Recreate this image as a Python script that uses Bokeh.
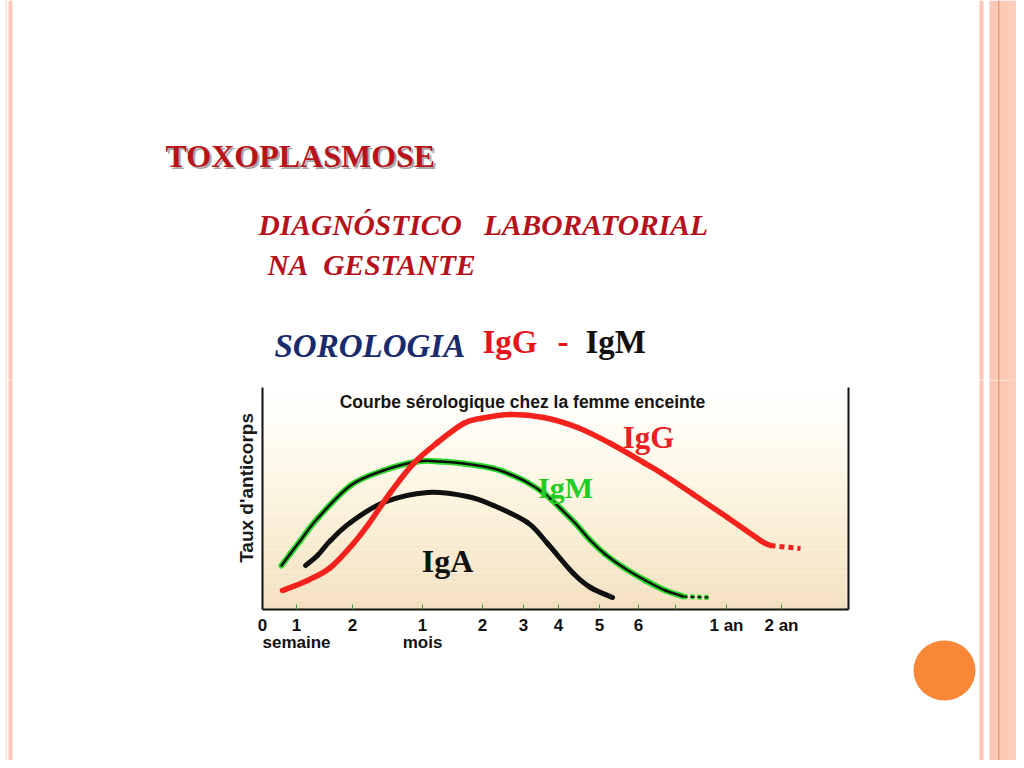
from bokeh.plotting import figure
from bokeh.models import Range1d, LinearAxis, FixedTicker, Label
from bokeh.layouts import column, row
from bokeh.core.properties import value
from bokeh.embed import file_html
from bokeh.resources import INLINE

# ---------------- data (x: position along the time axis, y: antibody level) ----------------
igg_x = [20, 45, 68, 91, 105, 128, 151, 175, 201, 218, 248, 281, 315, 348, 381, 398, 431, 465, 498, 508]
igg_y = [19, 29, 42, 66, 84, 117, 146, 167, 186, 191, 195, 192, 182, 166, 147, 137, 115, 92, 69, 64]
igg_tail_x = [508, 538]
igg_tail_y = [64, 61]

igm_x = [19, 28, 38, 55, 88, 121, 155, 178, 201, 231, 248, 265, 283, 298, 313, 328, 343, 361, 383, 403, 421]
igm_y = [44, 56, 69, 91, 124, 139, 148, 148, 146, 141, 135, 127, 115, 101, 86, 69, 55, 42, 29, 19, 13]
igm_tail_x = [421, 448]
igm_tail_y = [13, 12]

iga_x = [43, 55, 68, 88, 121, 165, 205, 231, 265, 285, 311, 328, 350]
iga_y = [44, 54, 69, 87, 107, 117, 113, 104, 87, 66, 36, 22, 12]

tick_pos = [0, 34, 90, 160, 220, 261, 296, 337, 376, 464, 519]
tick_labels = ["0", "1\nsemaine", "2", "1\nmois", "2", "3", "4", "5", "6", "1 an", "2 an"]
unlabeled_ticks = [413]

X_MAX = 586
Y_MAX = 222

TOTAL_W, TOTAL_H = 1016, 760
TOP_H = 380
LEFT_W = 200
CHART_W = 670
RIGHT_W = TOTAL_W - LEFT_W - CHART_W
ROW_H = TOTAL_H - TOP_H


def no_align(f):
    try:
        f.frame_align = False
    except Exception:
        pass


def canvas(x0, y0, w, h):
    """A plain figure whose data coordinates are slide pixels."""
    f = figure(width=w, height=h, output_backend="svg", toolbar_location=None,
               x_range=Range1d(x0, x0 + w), y_range=Range1d(y0 + h, y0),
               min_border=0, background_fill_color="white", border_fill_color="white")
    f.axis.visible = False
    f.grid.visible = False
    f.outline_line_color = None
    no_align(f)
    # slide decoration stripes
    f.quad(left=[5, 8, 979, 989, 1007, 997.5], right=[6.5, 12, 983, 1024, 1024, 999],
           bottom=[0] * 6, top=[768] * 6,
           fill_color=["#F6E2D2", "#FDC6B8", "#FBC6B4", "#FCC8B4", "#FDCDBB", "#E99C80"],
           line_color=None)
    return f


# ---------------- top part of the slide ----------------
top = canvas(0, 0, TOTAL_W, TOP_H)


def slide_text(f, x, y, text, font, size, color, style="bold", align="left"):
    f.text(x=[x], y=[y], text=[text], text_font=value(font), text_font_size=size,
           text_font_style=style, text_color=color, text_align=align, text_baseline="alphabetic")


NB = "\u00a0"
slide_text(top, 167, 157, "TOXOPLASMOSE", "Liberation Serif", "32px", "#a8a8a8")
slide_text(top, 165, 155, "TOXOPLASMOSE", "Liberation Serif", "32px", "#B8121B")
slide_text(top, 258, 224, "DIAGNÓSTICO" + NB * 3 + "LABORATORIAL", "Liberation Serif", "29.5px", "#B5121B", "bold italic")
slide_text(top, 267, 264, "NA" + NB * 2 + "GESTANTE", "Liberation Serif", "29.5px", "#B5121B", "bold italic")
slide_text(top, 274, 345, "SOROLOGIA", "Liberation Serif", "33px", "#1A2B6D", "bold italic")
slide_text(top, 482, 341, "IgG", "Liberation Serif", "33px", "#E8141B")
slide_text(top, 557, 341, "-", "Liberation Serif", "33px", "#E8141B")
slide_text(top, 585, 341, "IgM", "Liberation Serif", "33px", "#111111")

left = canvas(0, TOP_H, LEFT_W, ROW_H)
right = canvas(LEFT_W + CHART_W, TOP_H, RIGHT_W, ROW_H)
right.ellipse(x=[944], y=[670], width=62, height=60, fill_color="#F88738", line_color=None)

# ---------------- chart ----------------
p = figure(width=CHART_W, height=ROW_H, output_backend="svg", toolbar_location=None,
           x_range=Range1d(0, X_MAX), y_range=Range1d(0, Y_MAX),
           min_border_left=62, min_border_right=22, min_border_top=7, min_border_bottom=151,
           background_fill_color="white", border_fill_color="white")
no_align(p)
p.outline_line_color = None
p.xgrid.visible = False
p.ygrid.visible = False

# background gradient of the chart area
stops = [(0.0, (243, 224, 192)), (0.45, (251, 242, 218)), (0.75, (254, 251, 240)), (1.0, (255, 255, 255))]


def grad(t):
    for (t0, c0), (t1, c1) in zip(stops[:-1], stops[1:]):
        if t0 <= t <= t1:
            f = (t - t0) / (t1 - t0)
            return "#%02x%02x%02x" % tuple(int(round(a + (b - a) * f)) for a, b in zip(c0, c1))
    return "#ffffff"


n = 48
p.quad(left=0, right=X_MAX,
       bottom=[Y_MAX * i / n for i in range(n)], top=[Y_MAX * (i + 1) / n for i in range(n)],
       fill_color=[grad((i + 0.5) / n) for i in range(n)], line_color=None)


def smooth(xs, ys):
    """Cubic Bezier segments passing through every read point (Catmull-Rom)."""
    px = [xs[0]] + list(xs) + [xs[-1]]
    py = [ys[0]] + list(ys) + [ys[-1]]
    d = dict(x0=[], y0=[], x1=[], y1=[], cx0=[], cy0=[], cx1=[], cy1=[])
    for i in range(1, len(px) - 2):
        d["x0"].append(px[i]); d["y0"].append(py[i])
        d["x1"].append(px[i + 1]); d["y1"].append(py[i + 1])
        d["cx0"].append(px[i] + (px[i + 1] - px[i - 1]) / 6)
        d["cy0"].append(py[i] + (py[i + 1] - py[i - 1]) / 6)
        d["cx1"].append(px[i + 1] - (px[i + 2] - px[i]) / 6)
        d["cy1"].append(py[i + 1] - (py[i + 2] - py[i]) / 6)
    return d


igm_s = smooth(igm_x, igm_y)
iga_s = smooth(iga_x, iga_y)
igg_s = smooth(igg_x, igg_y)

p.bezier(line_color="#2BD82B", line_width=6, line_cap="round", **igm_s)
p.bezier(line_color="#101010", line_width=2.5, line_cap="round", **igm_s)
p.line(igm_tail_x, igm_tail_y, line_color="#2BD82B", line_width=5, line_dash="4 3")
p.line(igm_tail_x, igm_tail_y, line_color="#101010", line_width=2, line_dash="4 3")
p.bezier(line_color="#101010", line_width=5, line_cap="round", **iga_s)
p.bezier(line_color="#F4221C", line_width=5.5, line_cap="round", **igg_s)
p.line(igg_tail_x, igg_tail_y, line_color="#F4221C", line_width=5, line_dash="5 4")

# axes
p.yaxis.ticker = FixedTicker(ticks=[])
p.yaxis.axis_label = NB * 4 + "Taux d'anticorps"
p.yaxis.axis_label_text_font = "Liberation Sans"
p.yaxis.axis_label_text_font_style = "bold"
p.yaxis.axis_label_text_font_size = "19px"
p.yaxis.axis_label_text_color = "#1a1a1a"
p.yaxis.axis_label_standoff = 6
p.yaxis.major_tick_line_color = None
p.yaxis.minor_tick_line_color = None
p.yaxis.axis_line_width = 2
p.yaxis.axis_line_color = "#111111"

p.xaxis.ticker = FixedTicker(ticks=tick_pos, minor_ticks=unlabeled_ticks)
p.xaxis.major_label_overrides = {t: l for t, l in zip(tick_pos, tick_labels)}
p.xaxis.major_label_text_font = "Liberation Sans"
p.xaxis.major_label_text_font_style = "bold"
p.xaxis.major_label_text_font_size = "17px"
p.xaxis.major_label_text_line_height = 0.9
p.xaxis.major_label_text_color = "#111111"
p.xaxis.major_label_standoff = 6
p.xaxis.major_tick_in = 5
p.xaxis.major_tick_out = 0
p.xaxis.major_tick_line_color = "#3a9a3a"
p.xaxis.minor_tick_in = 5
p.xaxis.minor_tick_out = 0
p.xaxis.minor_tick_line_color = "#3a9a3a"
p.xaxis.axis_line_width = 2
p.xaxis.axis_line_color = "#111111"

right_axis = LinearAxis(ticker=FixedTicker(ticks=[]),
                        major_tick_line_color=None, minor_tick_line_color=None,
                        axis_line_width=2, axis_line_color="#111111")
p.add_layout(right_axis, "right")


# chart texts (page pixel -> data: the frame maps 1 unit to 1 px, origin at page (262, 609))
def chart_label(x, y, text, font, size, color):
    p.add_layout(Label(x=x - 262, y=609 - y, text=text, text_font=font, text_font_size=size,
                       text_font_style="bold", text_color=color, text_align="center",
                       text_baseline="alphabetic"))


chart_label(522, 401, "Courbe sérologique chez la femme enceinte", "Liberation Sans", "17.5px", "#151515")
chart_label(648, 437, "IgG", "Liberation Serif", "31px", "#E8201E")
chart_label(565, 487, "IgM", "Liberation Serif", "30px", "#22CC22")
chart_label(447, 560, "IgA", "Liberation Serif", "32px", "#111111")

layout = column(top, row(left, p, right))
open("out.html", "w").write(file_html(layout, INLINE))
